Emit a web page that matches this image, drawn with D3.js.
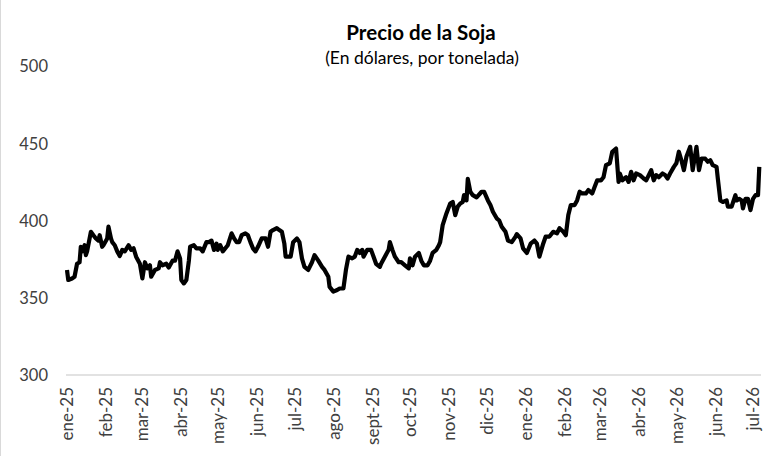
<!DOCTYPE html>
<html><head><meta charset="utf-8">
<script src="https://cdn.jsdelivr.net/npm/d3@7"></script>
<style>
html,body{margin:0;padding:0;background:#fff;}
text{font-family:Lato,"Open Sans",sans-serif;}
</style></head>
<body><svg id="c" width="775" height="463"></svg>
<script>
const title = "Precio de la Soja";
const subtitle = "(En dólares, por tonelada)";
const yTicks = [300, 350, 400, 450, 500];
const monthNames = ["ene","feb","mar","abr","may","jun","jul","ago","sept","oct","nov","dic"];
const dates = [
"2025-01-01","2025-01-02","2025-01-05","2025-01-07","2025-01-09","2025-01-11","2025-01-12","2025-01-13","2025-01-15","2025-01-16",
"2025-01-17","2025-01-20","2025-01-22","2025-01-24","2025-01-26","2025-01-27","2025-01-29","2025-01-30","2025-02-02","2025-02-03",
"2025-02-05","2025-02-06","2025-02-08","2025-02-10","2025-02-12","2025-02-14","2025-02-16","2025-02-19","2025-02-21","2025-02-23",
"2025-02-25","2025-02-28","2025-03-02","2025-03-04","2025-03-06","2025-03-08","2025-03-09","2025-03-12","2025-03-15","2025-03-16",
"2025-03-18","2025-03-21","2025-03-23","2025-03-26","2025-03-28","2025-03-30","2025-04-01","2025-04-02","2025-04-04","2025-04-06",
"2025-04-08","2025-04-09","2025-04-12","2025-04-14","2025-04-17","2025-04-19","2025-04-22","2025-04-24","2025-04-26","2025-04-28",
"2025-04-30","2025-05-01","2025-05-03","2025-05-05","2025-05-08","2025-05-09","2025-05-12","2025-05-14","2025-05-16","2025-05-18",
"2025-05-20","2025-05-23","2025-05-25","2025-05-27","2025-05-29","2025-05-31","2025-06-02","2025-06-05","2025-06-08","2025-06-10",
"2025-06-12","2025-06-14","2025-06-17","2025-06-19","2025-06-21","2025-06-23","2025-06-24","2025-06-26","2025-06-28","2025-06-30",
"2025-07-03","2025-07-05","2025-07-07","2025-07-09","2025-07-12","2025-07-15","2025-07-17","2025-07-20","2025-07-23","2025-07-25",
"2025-07-28","2025-07-29","2025-08-01","2025-08-04","2025-08-06","2025-08-09","2025-08-11","2025-08-13","2025-08-16","2025-08-18",
"2025-08-20","2025-08-22","2025-08-24","2025-08-25","2025-08-28","2025-08-31","2025-09-02","2025-09-04","2025-09-07","2025-09-08",
"2025-09-11","2025-09-14","2025-09-15","2025-09-17","2025-09-19","2025-09-22","2025-09-24","2025-09-27","2025-09-30","2025-10-01",
"2025-10-03","2025-10-05","2025-10-08","2025-10-10","2025-10-12","2025-10-15","2025-10-17","2025-10-19","2025-10-22","2025-10-24",
"2025-10-25","2025-10-27","2025-10-30","2025-11-02","2025-11-04","2025-11-06","2025-11-08","2025-11-10","2025-11-12","2025-11-13",
"2025-11-15","2025-11-16","2025-11-18","2025-11-20","2025-11-23","2025-11-27","2025-11-29","2025-12-02","2025-12-04","2025-12-06",
"2025-12-09","2025-12-11","2025-12-13","2025-12-16","2025-12-18","2025-12-21","2025-12-24","2025-12-25","2025-12-28","2025-12-30",
"2026-01-02","2026-01-05","2026-01-08","2026-01-10","2026-01-12","2026-01-15","2026-01-17","2026-01-20","2026-01-23","2026-01-26",
"2026-01-28","2026-01-31","2026-02-02","2026-02-04","2026-02-06","2026-02-09","2026-02-11","2026-02-13","2026-02-15","2026-02-18",
"2026-02-20","2026-02-23","2026-02-25","2026-02-27","2026-03-02","2026-03-04","2026-03-06","2026-03-09","2026-03-11","2026-03-14",
"2026-03-16","2026-03-17","2026-03-19","2026-03-22","2026-03-24","2026-03-26","2026-03-28","2026-03-30","2026-04-02","2026-04-05",
"2026-04-07","2026-04-11","2026-04-13","2026-04-15","2026-04-17","2026-04-20","2026-04-22","2026-04-24","2026-04-26","2026-04-29",
"2026-05-01","2026-05-03","2026-05-05","2026-05-07","2026-05-09","2026-05-12","2026-05-14","2026-05-17","2026-05-19","2026-05-21",
"2026-05-24","2026-05-26","2026-05-28","2026-05-30","2026-06-02","2026-06-03","2026-06-05","2026-06-07","2026-06-10","2026-06-11",
"2026-06-14","2026-06-17","2026-06-18","2026-06-20","2026-06-22","2026-06-23","2026-06-25","2026-06-27","2026-06-29","2026-07-01",
"2026-07-03","2026-07-05","2026-07-06"
];
const prices = [
368,361.5,362.5,363.6,372,373,383,380,384,377.6,
380,392.7,390.5,388.4,387,390.5,383,384,388.4,396,
388.4,386,384,380,377,381,380,384,381,382,
376.6,372,362.5,373,369,371,363.6,368,369,373,
371,372,369.6,374,374,380,375.5,361.5,359.3,361.5,
374,383,384,382,382,380,386,386,387,381,
385,381,384,380,383,384,391.7,388.4,386,386,
390.5,391.7,390.5,386,382,380,383,388.4,388.4,383,
392.7,393.8,395,393.8,392.7,385,376.6,376.6,376.6,386,
388.4,386,375.5,370,368,373,377.6,374,370,368,
363.6,357,354,355,356,356,368,376.6,375.5,376.6,
381,379,381,376.6,381,381,376.6,372,370,372,
376.6,381,386,381,376.6,373,373,371,369,375.5,
371,376.6,379,374,371,371,374,379,381,384,
386,397,404.6,411,412,403.5,409,411,412,416.4,
413,427,418.6,416.4,415,418.6,418.6,413,410,405.7,
401.4,400,396,392.7,387,386,389.6,391.2,388.4,382,
379,385,387,385,376.6,385,389.6,389.6,392.7,391.7,
395,392.7,390.5,403.5,410,410,413,418.6,417.5,417.5,
419.7,417.5,421.8,426,426,428,435.8,437,444.5,446.6,
425,430.4,426,428,425,431.5,426,430.4,429.4,427.2,
426,432.6,426,429.4,428,430.4,429.4,427.2,430.4,434.7,
437,444.5,439,432.6,441.2,447.7,432.6,447.7,432.6,440,
440,438,439,435.8,434.7,427.2,413,412,413,409,
409,416.4,413,414,413,407.8,414,414,406.7,414,
416.4,416.4,434.7
];

const parse = d3.utcParse("%Y-%m-%d");
const data = dates.map((d,i)=>({date:parse(d), value:prices[i]}));

const svg = d3.select("#c");
const x = d3.scaleUtc().domain([parse("2025-01-01"), parse("2026-07-01")]).range([67, 753]);
const y = d3.scaleLinear().domain([300, 500]).range([375, 66]);

// chart frame left edge
svg.append("line").attr("x1",0.5).attr("x2",0.5).attr("y1",0).attr("y2",456)
  .attr("stroke","#d9d9d9").attr("stroke-width",1);

// title
svg.append("text").attr("x",421).attr("y",40).attr("text-anchor","middle")
  .attr("font-size",20.5).attr("font-weight","bold").attr("fill","#000").text(title);
svg.append("text").attr("x",422).attr("y",64).attr("text-anchor","middle")
  .attr("font-size",17.5).attr("fill","#000").text(subtitle);

// y axis labels
const yAxis = d3.axisLeft(y).tickValues(yTicks).tickSize(0).tickPadding(0);
const gy = svg.append("g").attr("transform","translate(48,0)").call(yAxis);
gy.select(".domain").remove();
gy.selectAll("text").attr("font-size",16.5).attr("fill","#404040")
  .style("font-family","Lato,'Open Sans',sans-serif").attr("dy","0.35em");

// baseline
svg.append("line").attr("x1",66).attr("x2",761).attr("y1",y(300)).attr("y2",y(300))
  .attr("stroke","#d9d9d9").attr("stroke-width",1.3);

// x axis labels
const monthTicks = d3.utcMonth.range(parse("2025-01-01"), d3.utcDay.offset(parse("2026-07-01"),1));
const xAxis = d3.axisBottom(x).tickValues(monthTicks).tickSize(0).tickPadding(0)
  .tickFormat(d => monthNames[d.getUTCMonth()] + "-" + String(d.getUTCFullYear()).slice(2));
const gx = svg.append("g").attr("transform","translate(0,387)").call(xAxis);
gx.select(".domain").remove();
gx.selectAll("text").attr("font-size",17).attr("fill","#404040")
  .style("font-family","Lato,'Open Sans',sans-serif")
  .attr("transform","rotate(-90)").attr("text-anchor","end")
  .attr("x",0).attr("y",0).attr("dy","0.35em");

// line
const line = d3.line().x(d=>x(d.date)).y(d=>y(d.value));
svg.append("path").datum(data).attr("d",line).attr("fill","none")
  .attr("stroke","#000").attr("stroke-width",4.2).attr("stroke-linejoin","round");
</script>
</body></html>
